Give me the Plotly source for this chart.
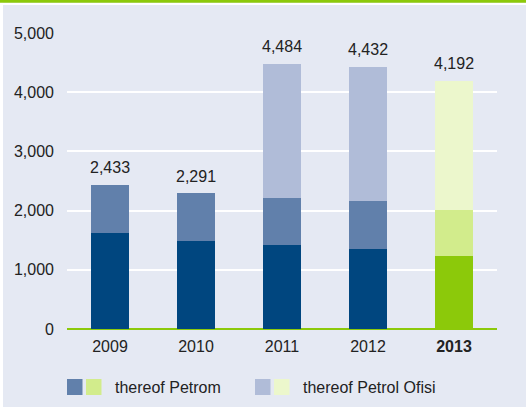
import plotly.graph_objects as go

years = ["2009", "2010", "2011", "2012", "2013"]
year_labels = ["2009", "2010", "2011", "2012", "<b>2013</b>"]
base_vals = [1620, 1490, 1420, 1350, 1230]
petrom_vals = [813, 801, 790, 812, 780]
ofisi_vals = [0, 0, 2274, 2270, 2182]
totals = [2433, 2291, 4484, 4432, 4192]
total_labels = ["2,433", "2,291", "4,484", "4,432", "4,192"]
y_ticks = [0, 1000, 2000, 3000, 4000, 5000]
y_tick_labels = ["0", "1,000", "2,000", "3,000", "4,000", "5,000"]

base_colors = ["#00467f"] * 4 + ["#8cc90a"]
petrom_colors = ["#6180ab"] * 4 + ["#d2ec8c"]
ofisi_colors = ["#b0bcd8"] * 4 + ["#ecf7cc"]

W, H = 526, 407
ml, mr, mt, mb = 67, 29, 33, 78
pw, ph = W - ml - mr, H - mt - mb

def px(x):
    return (x - ml) / pw

def py(y):
    return (H - mb - y) / ph

fig = go.Figure()
for vals, cols in [(base_vals, base_colors), (petrom_vals, petrom_colors), (ofisi_vals, ofisi_colors)]:
    fig.add_trace(go.Bar(x=years, y=vals, marker=dict(color=cols, line=dict(width=0)),
                         width=0.45, showlegend=False, hoverinfo="skip"))

for i, (tot, lab) in enumerate(zip(totals, total_labels)):
    fig.add_annotation(x=i, y=tot, text=lab, showarrow=False, yanchor="middle", yshift=17,
                       font=dict(size=16, color="#222", family="Arial"))

shapes = []
# left white strip and top green band
shapes.append(dict(type="rect", xref="paper", yref="paper", x0=px(0), x1=px(3), y0=py(H), y1=py(0),
                   fillcolor="white", line=dict(width=0), layer="below"))
shapes.append(dict(type="rect", xref="paper", yref="paper", x0=px(0), x1=px(W), y0=py(5), y1=py(2.5),
                   fillcolor="white", line=dict(width=0)))
shapes.append(dict(type="rect", xref="paper", yref="paper", x0=px(0), x1=px(W), y0=py(2.7), y1=py(0),
                   fillcolor="#8cc90a", line=dict(width=0)))
# legend swatches
legend_items = [
    ("thereof Petrom", petrom_colors[0], petrom_colors[4], 67, 113),
    ("thereof Petrol Ofisi", ofisi_colors[0], ofisi_colors[4], 255, 301),
]
for text, c1, c2, x0, tx in legend_items:
    shapes.append(dict(type="rect", xref="paper", yref="paper", x0=px(x0), x1=px(x0 + 15.5),
                       y0=py(395), y1=py(379), fillcolor=c1, line=dict(width=0)))
    shapes.append(dict(type="rect", xref="paper", yref="paper", x0=px(x0 + 19), x1=px(x0 + 34.5),
                       y0=py(395), y1=py(379), fillcolor=c2, line=dict(width=0)))
    fig.add_annotation(xref="paper", yref="paper", x=px(tx), y=py(387), text=text, showarrow=False,
                       xanchor="left", yanchor="middle", font=dict(size=16, color="#222", family="Arial"))

fig.update_layout(
    width=W, height=H,
    margin=dict(l=ml, r=mr, t=mt, b=mb),
    paper_bgcolor="#e5e9f3", plot_bgcolor="#e5e9f3",
    barmode="stack", bargap=0.55,
    shapes=shapes,
    font=dict(family="Arial", size=16, color="#222"),
    xaxis=dict(type="category", range=[-0.5, 4.5], tickmode="array", tickvals=years, ticktext=year_labels,
               showgrid=False, showline=False, zeroline=False, ticks="", ticklabelstandoff=6),
    yaxis=dict(range=[0, 5000], tickvals=y_ticks, ticktext=y_tick_labels, showgrid=True,
               gridcolor="white", gridwidth=1.5, zeroline=True, zerolinecolor="#8cc90a",
               zerolinewidth=1.5, showline=False, ticks="", ticklabelstandoff=12),
)

fig.write_html("out.html", post_script="document.body.style.margin='0';",
               config={"displayModeBar": False})
